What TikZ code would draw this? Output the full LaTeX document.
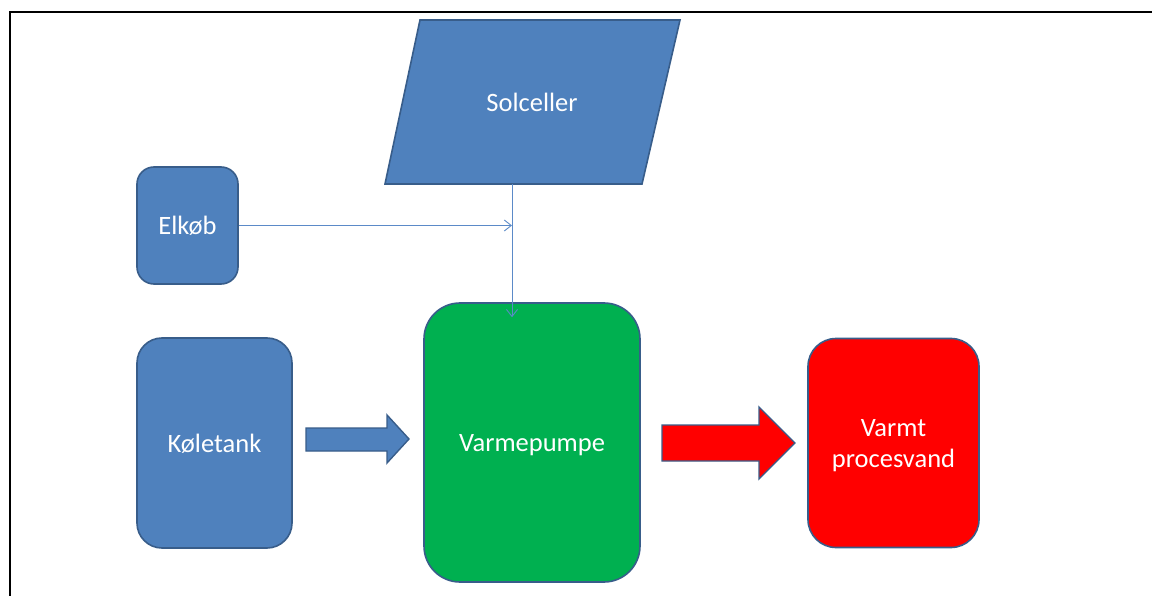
\documentclass[tikz,border=0pt]{standalone}
\usepackage{fontspec}
\setmainfont{Carlito}
\usetikzlibrary{arrows.meta}
\definecolor{boxblue}{HTML}{4F81BD}
\definecolor{edgeblue}{HTML}{385D8A}
\definecolor{lineblue}{HTML}{5B8AC8}
\definecolor{pumpgreen}{HTML}{00B050}
\definecolor{hotred}{HTML}{FF0000}
\tikzset{
  unit/.style={draw=edgeblue, line width=1.6pt, text=white, align=center,
    font=\fontsize{26.5}{31}\selectfont, inner sep=0pt, text depth=0pt},
  label/.style={text=white, align=center,
    font=\fontsize{26.5}{31}\selectfont, inner sep=0pt},
  blockarrow/.style={draw=edgeblue, line width=1.4pt, line join=miter},
  feed/.style={draw=lineblue, line width=0.9pt,
    -{Straight Barb[length=7pt,width=11pt]}},
}
\begin{document}
\begin{tikzpicture}[x=1pt,y=-1pt]
  \useasboundingbox (0,0) rectangle (1152,596);
  \fill[white] (0,0) rectangle (1152,596);
  % frame
  \draw[line width=2.4pt, black] (10,596) -- (10,12) -- (1152,12);

  % solar panel parallelogram
  \filldraw[fill=boxblue, draw=edgeblue, line width=1.6pt, line join=miter]
    (420,20) -- (680,20) -- (642,184) -- (385,184) -- cycle;
  \node[label] (sol) at (532,102) {Solceller};
  \coordinate (solfoot) at (512,184);

  % units
  \node[unit, fill=boxblue, rounded corners=17pt,
        minimum width=101pt, minimum height=117pt] (elk) at (187.5,225.5) {Elkøb};
  \node[unit, fill=boxblue, rounded corners=25pt,
        minimum width=155pt, minimum height=210pt] (kol) at (214.5,443) {Køletank};
  \node[unit, fill=pumpgreen, rounded corners=36pt,
        minimum width=216pt, minimum height=279pt] (vp) at (532,442.5) {Varmepumpe};
  \node[unit, fill=hotred, rounded corners=28pt,
        minimum width=171pt, minimum height=209pt] (vand) at (893.5,443) {Varmt\\procesvand};

  % block arrows between units
  \filldraw[blockarrow, fill=boxblue]
    (306,428) -- (387,428) -- (387,415) -- (409,439) -- (387,463)
    -- (387,451) -- (306,451) -- cycle;
  \filldraw[blockarrow, fill=hotred]
    (662,425) -- (759,425) -- (759,407) -- (795,443) -- (759,479)
    -- (759,461) -- (662,461) -- cycle;

  % power feed lines
  \coordinate (join) at (elk.east -| solfoot);
  \draw[feed] (elk.east) -- (join);
  \draw[feed] (solfoot) -- ([yshift=-15pt]vp.north -| solfoot);
\end{tikzpicture}
\end{document}
